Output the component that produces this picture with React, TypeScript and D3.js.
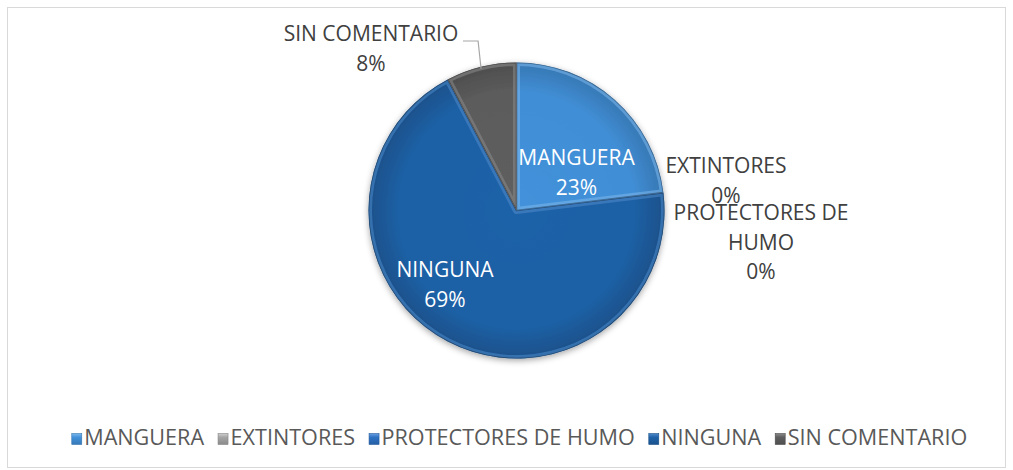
import React, { useEffect, useRef } from "react";
import * as d3 from "d3";

const categories = ["MANGUERA", "EXTINTORES", "PROTECTORES DE HUMO", "NINGUNA", "SIN COMENTARIO"];
const values = [3, 0, 0, 9, 1];
const labelLines = [["MANGUERA"], ["EXTINTORES"], ["PROTECTORES DE", "HUMO"], ["NINGUNA"], ["SIN COMENTARIO"]];
const colors = ["#4291DA", "#A5A5A5", "#2E72C4", "#1F62A8", "#5E5E5E"];
const highlights = ["#7DB8EC", "#D0D0D0", "#6A9FE0", "#4F8ACB", "#8A8A8A"];

// layout (label offsets relative to the pie centre: centre-x, first baseline)
const labelOffsets: [number, number][] = [[60, -45.5], [209.5, -37.5], [244.5, 9.5], [-71.5, 66.5], [-145.5, -169.5]];
const labelInside = [true, false, false, true, false];

const W = 1013, H = 470;
const FONT = "'Open Sans', 'Noto Sans', sans-serif";

export default function App() {
  const ref = useRef<SVGSVGElement | null>(null);

  useEffect(() => {
    const svg = d3.select(ref.current);
    svg.selectAll("*").remove();
    const defs = svg.append("defs");

    // border
    svg.append("rect").attr("x", 7.5).attr("y", 7.5).attr("width", 998).attr("height", 460)
      .attr("fill", "#fff").attr("stroke", "#D9D9D9").attr("stroke-width", 1);

    const cx = 516.5, cy = 210.5, r = 148;
    const total = d3.sum(values);
    const pct = d3.format(".0%");

    const pie = d3.pie<number>().sort(null).value((d) => d);
    const arcs = pie(values);
    const arc = d3.arc<d3.PieArcDatum<number>>().innerRadius(0).outerRadius(r);

    const shadow = defs.append("filter").attr("id", "shadow").attr("x", "-20%").attr("y", "-20%").attr("width", "140%").attr("height", "140%");
    shadow.append("feDropShadow").attr("dx", 0).attr("dy", 2).attr("stdDeviation", 3).attr("flood-color", "#000").attr("flood-opacity", 0.35);

    const rim = defs.append("radialGradient").attr("id", "rim").attr("gradientUnits", "userSpaceOnUse")
      .attr("cx", 0).attr("cy", 0).attr("r", r);
    rim.append("stop").attr("offset", "0%").attr("stop-color", "#000").attr("stop-opacity", 0);
    rim.append("stop").attr("offset", "80%").attr("stop-color", "#000").attr("stop-opacity", 0.02);
    rim.append("stop").attr("offset", "100%").attr("stop-color", "#000").attr("stop-opacity", 0.18);

    const g = svg.append("g").attr("transform", `translate(${cx},${cy})`);
    const pg = g.append("g").attr("filter", "url(#shadow)");

    arcs.forEach((a, i) => {
      if (a.endAngle - a.startAngle <= 0) return;
      const id = `clip${i}`;
      defs.append("clipPath").attr("id", id).append("path").attr("d", arc(a)!).attr("transform", `translate(${cx},${cy})`);
      const sg = pg.append("g");
      sg.append("path").attr("d", arc(a)!).attr("fill", colors[i]);
      const cg = sg.append("g").attr("clip-path", `url(#${id})`).attr("transform", `translate(${-cx},${-cy})`)
        .append("g").attr("transform", `translate(${cx},${cy})`);
      cg.append("path").attr("d", arc(a)!).attr("fill", "url(#rim)");
      cg.append("path").attr("d", arc(a)!).attr("fill", "none").attr("stroke", highlights[i])
        .attr("stroke-width", 7).attr("stroke-opacity", 0.55).attr("stroke-linejoin", "round");
      cg.append("path").attr("d", arc(a)!).attr("fill", "none").attr("stroke", "#000")
        .attr("stroke-width", 1.6).attr("stroke-opacity", 0.35);
    });

    // labels
    const lineH = 29.5;
    arcs.forEach((a, i) => {
      const [dx, dy] = labelOffsets[i];
      const lines = [...labelLines[i], pct(values[i] / total)];
      const t = g.append("text").attr("text-anchor", "middle")
        .attr("font-family", FONT).attr("font-size", 21)
        .attr("fill", labelInside[i] ? "#FFFFFF" : "#404040");
      lines.forEach((ln, k) => {
        t.append("tspan").attr("x", dx).attr("y", dy + k * lineH).text(ln);
      });
    });

    // leader line for SIN COMENTARIO
    const sc = arcs[4];
    const mid = (sc.startAngle + sc.endAngle) / 2;
    const ex = r * Math.sin(mid), ey = -r * Math.cos(mid);
    const [lx, ly] = labelOffsets[4];
    g.append("polyline")
      .attr("points", `${lx + 92},${ly} ${ex - 3},${ly} ${ex},${ey + 2}`)
      .attr("fill", "none").attr("stroke", "#A6A6A6").attr("stroke-width", 1.2);

    // legend
    const lg = svg.append("g");
    const mk = 10, gapMT = 2.5, gapItem = 14;
    const items: { g: any; w: number }[] = [];
    categories.forEach((c, i) => {
      const ig = lg.append("g");
      const gid = `lgrad${i}`;
      const lgr = defs.append("linearGradient").attr("id", gid).attr("x1", 0).attr("y1", 0).attr("x2", 0).attr("y2", 1);
      lgr.append("stop").attr("offset", "0%").attr("stop-color", highlights[i]);
      lgr.append("stop").attr("offset", "35%").attr("stop-color", colors[i]);
      lgr.append("stop").attr("offset", "100%").attr("stop-color", d3.color(colors[i])!.darker(0.5).formatHex());
      ig.append("rect").attr("x", 0).attr("y", -11.5).attr("width", mk).attr("height", mk + 1)
        .attr("fill", `url(#${gid})`).attr("stroke", d3.color(colors[i])!.darker(0.6).formatHex()).attr("stroke-width", 0.6);
      const tx = ig.append("text").attr("x", mk + gapMT).attr("y", 0)
        .attr("font-family", FONT).attr("font-size", 21.6).attr("fill", "#595959").text(c);
      const tw = (tx.node() as SVGTextElement).getComputedTextLength();
      items.push({ g: ig, w: mk + gapMT + tw });
    });
    const totalW = d3.sum(items, (d) => d.w) + gapItem * (items.length - 1);
    let x = 519.5 - totalW / 2;
    items.forEach((it) => {
      it.g.attr("transform", `translate(${x},445)`);
      x += it.w + gapItem;
    });
  }, []);

  return (
    <svg ref={ref} width={W} height={H}
      style={{ position: "absolute", left: 0, top: 0, display: "block", background: "#fff" }} />
  );
}
